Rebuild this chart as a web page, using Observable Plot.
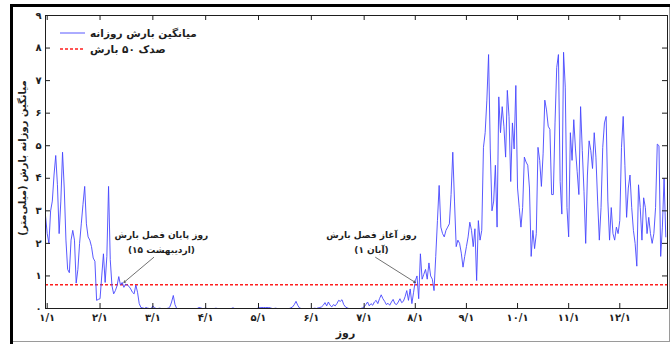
<!DOCTYPE html>
<html>
<head>
<meta charset="utf-8">
<script src="https://cdn.jsdelivr.net/npm/d3@7"></script>
<script src="https://cdn.jsdelivr.net/npm/@observablehq/plot@0.6"></script>
<style>
  html, body { margin: 0; padding: 0; background: #fff; }
  #fig { position: relative; width: 670px; height: 344px; overflow: hidden; background: #fff; }
  #fig > svg { position: absolute; left: 0; top: 0; }
  .edge { position: absolute; }
  #fig text { font-family: "DejaVu Sans", sans-serif; }
</style>
</head>
<body>
<div id="fig">
  <div class="edge" style="left:10px;top:4px;width:660px;height:3px;background:#000"></div>
  <div class="edge" style="left:10px;top:4px;width:3px;height:340px;background:#000"></div>
  <div class="edge" style="left:669px;top:7px;width:1px;height:334px;background:#9a9a9a"></div>
  <div class="edge" style="left:13px;top:341px;width:657px;height:1px;background:#9a9a9a"></div>
</div>
<script>
// Mean daily rainfall (mm), one value per day of the Persian calendar year, by month.
const farvardin = [2.85, 2.3, 2.0, 3.0, 3.3, 4.1, 4.7, 3.8, 2.3, 3.3, 4.8, 3.7, 2.1, 1.2, 1.1, 2.1, 2.4, 2.1, 0.78, 1.2, 2.0, 2.6, 3.2, 3.75, 2.6, 2.2, 2.1, 1.9, 1.55, 1.45, 0.25];
const ordibehesht = [0.28, 0.3, 1.0, 1.68, 0.8, 1.6, 3.75, 1.5, 0.7, 0.45, 0.55, 0.7, 0.98, 0.72, 0.8, 0.65, 0.75, 0.72, 0.68, 0.6, 0.5, 0.45, 0.72, 0.5, 0.15, 0.03, 0.02, 0.0, 0.03, 0.01, 0.0];
const khordad = [0.0, 0.08, 0.02, 0.0, 0.0, 0.01, 0.0, 0.0, 0.0, 0.0, 0.01, 0.05, 0.2, 0.4, 0.12, 0.0, 0.0, 0.0, 0.0, 0.0, 0.0, 0.0, 0.0, 0.0, 0.0, 0.0, 0.0, 0.0, 0.03, 0.02, 0.0];
const tir = [0.0, 0.01, 0.0, 0.0, 0.0, 0.0, 0.0, 0.01, 0.0, 0.0, 0.0, 0.0, 0.0, 0.0, 0.0, 0.0, 0.0, 0.02, 0.0, 0.0, 0.0, 0.0, 0.0, 0.0, 0.0, 0.0, 0.0, 0.0, 0.0, 0.0, 0.0];
const mordad = [0.0, 0.02, 0.03, 0.03, 0.03, 0.03, 0.03, 0.03, 0.02, 0.0, 0.0, 0.01, 0.0, 0.0, 0.0, 0.0, 0.0, 0.0, 0.0, 0.0, 0.02, 0.05, 0.12, 0.22, 0.1, 0.02, 0.0, 0.0, 0.0, 0.0, 0.0];
const shahrivar = [0.0, 0.0, 0.0, 0.01, 0.0, 0.02, 0.03, 0.05, 0.1, 0.18, 0.08, 0.2, 0.1, 0.05, 0.12, 0.08, 0.15, 0.25, 0.22, 0.27, 0.12, 0.05, 0.02, 0.0, 0.0, 0.0, 0.0, 0.0, 0.0, 0.0, 0.0];
const mehr = [0.02, 0.05, 0.12, 0.2, 0.08, 0.15, 0.1, 0.2, 0.25, 0.15, 0.3, 0.42, 0.3, 0.22, 0.12, 0.16, 0.1, 0.2, 0.28, 0.15, 0.12, 0.2, 0.3, 0.18, 0.22, 0.36, 0.55, 0.25, 0.6, 0.15];
const aban = [0.5, 0.85, 1.0, 0.3, 1.68, 0.9, 1.05, 1.2, 0.9, 1.4, 1.0, 0.9, 0.55, 1.6, 2.7, 3.78, 2.5, 2.3, 2.2, 2.4, 2.5, 2.6, 3.5, 4.8, 3.3, 1.9, 2.1, 2.0, 1.7, 1.27];
const azar = [1.6, 1.9, 2.2, 2.65, 2.4, 1.9, 2.45, 0.86, 2.7, 2.1, 2.4, 4.95, 5.4, 6.4, 7.8, 4.9, 3.0, 3.3, 4.4, 2.5, 6.5, 5.4, 6.2, 5.6, 4.65, 6.7, 5.9, 3.9, 5.7, 4.9];
const dey = [6.85, 3.7, 3.1, 2.5, 3.1, 4.65, 4.5, 4.4, 3.7, 1.6, 2.4, 1.84, 2.3, 4.95, 4.55, 3.75, 4.75, 6.4, 6.1, 5.6, 5.5, 3.5, 3.5, 5.7, 7.4, 7.8, 3.9, 2.9, 7.87, 6.8];
const bahman = [3.1, 2.2, 5.4, 4.55, 5.8, 4.9, 4.2, 3.5, 6.2, 4.85, 3.6, 2.0, 4.1, 5.15, 4.85, 4.3, 5.4, 4.65, 3.3, 2.1, 3.1, 4.95, 5.7, 5.9, 3.3, 2.1, 3.1, 2.3, 2.1, 2.5];
const esfand = [2.3, 2.7, 4.95, 5.9, 4.4, 2.8, 3.7, 4.1, 3.1, 2.4, 2.0, 1.3, 3.8, 3.1, 2.1, 3.4, 3.1, 2.3, 2.8, 2.3, 2.0, 2.3, 3.1, 5.05, 5.0, 1.6, 2.5, 4.0, 2.2];

// 50th percentile of daily rainfall (mm)
const median = 0.73;

// Axis ticks: first day of each month, and rainfall in mm
const monthStartDay = [1, 32, 63, 94, 125, 156, 187, 217, 247, 277, 307, 337];
const monthTickLabels = ["۱/۱", "۲/۱", "۳/۱", "۴/۱", "۵/۱", "۶/۱", "۷/۱", "۸/۱", "۹/۱", "۱۰/۱", "۱۱/۱", "۱۲/۱"];
const rainTicks = [0, 1, 2, 3, 4, 5, 6, 7, 8, 9];
const rainTickLabels = ["۰", "۱", "۲", "۳", "۴", "۵", "۶", "۷", "۸", "۹"];

// Season boundaries: 15 Ordibehesht (end of the rainy season) and 1 Aban (start)
const seasonDays = [31 + 15, 217];
const seasonTitles = ["روز پایان فصل بارش", "روز آغاز فصل بارش"];
const seasonDates = ["(۱۵ اردیبهشت)", "(۱ آبان)"];

// Where each callout's text sits and where its leader line starts (data units)
const calloutLayout = [
  {labelDay: 68, fromDay: 63.5},
  {labelDay: 191.3, fromDay: 193.7}
];
const calloutTitleY = 2.26, calloutDateY = 1.8, leaderFromY = 1.57, leaderToY = 0.8;

const rain = [farvardin, ordibehesht, khordad, tir, mordad, shahrivar, mehr, aban, azar, dey, bahman, esfand].flat();
const series = rain.map((v, i) => ({day: i, v}));

const callouts = seasonDays.map((day, i) => ({
  day,
  title: seasonTitles[i],
  date: seasonDates[i],
  ...calloutLayout[i]
}));

const monthLabelOf = new Map(monthStartDay.map((d, i) => [d, monthTickLabels[i]]));
const rainLabelOf = new Map(rainTicks.map((d, i) => [d, rainTickLabels[i]]));

const W = 670, H = 344, mL = 45, mR = 3, mT = 15, mB = 36;
const innerW = W - mL - mR, innerH = H - mT - mB;
const ink = "#1e1e1e";
const blue = "#4646ff", red = "#ff1e1e";

const chart = Plot.plot({
  width: W,
  height: H,
  marginLeft: mL,
  marginRight: mR,
  marginTop: mT,
  marginBottom: mB,
  style: {fontFamily: "DejaVu Sans, sans-serif", background: "transparent", color: ink},
  x: {domain: [0, 365]},
  y: {domain: [0, 9]},
  marks: [
    Plot.ruleY([median], {stroke: red, strokeWidth: 1.7, strokeDasharray: "3,2"}),
    Plot.line(series, {x: "day", y: "v", stroke: blue, strokeWidth: 0.9}),
    Plot.frame({stroke: ink, strokeWidth: 1}),
    // inward tick marks on all four sides
    Plot.tickY(rainTicks, {y: d => d, insetRight: innerW - 5, stroke: ink}),
    Plot.tickY(rainTicks, {y: d => d, insetLeft: innerW - 5, stroke: ink}),
    Plot.tickX(monthStartDay, {x: d => d, insetTop: innerH - 5, stroke: ink}),
    Plot.tickX(monthStartDay, {x: d => d, insetBottom: innerH - 5, stroke: ink}),
    Plot.axisX({ticks: monthStartDay, tickFormat: d => monthLabelOf.get(d), tickSize: 0, tickPadding: 5, label: null, fontSize: 10, fontWeight: "bold"}),
    Plot.axisY({ticks: rainTicks, tickFormat: d => rainLabelOf.get(d), tickSize: 0, tickPadding: 4, label: null, fontSize: 10, fontWeight: "bold"}),
    Plot.text(["میانگین روزانه بارش (میلی‌متر)"], {frameAnchor: "left", textAnchor: "middle", rotate: -90, dx: -23, dy: -4, fontSize: 10, fontWeight: "bold", fill: ink}),
    Plot.text(["روز"], {frameAnchor: "bottom", dy: 28, dx: -11, fontSize: 11, fontWeight: "bold", fill: ink}),
    Plot.arrow(callouts, {x1: "fromDay", y1: () => leaderFromY, x2: "day", y2: () => leaderToY, stroke: "#333", strokeWidth: 0.7, headLength: 4}),
    Plot.text(callouts, {x: "labelDay", y: () => calloutTitleY, text: "title", fontSize: 9, fontWeight: "bold", fill: ink}),
    Plot.text(callouts, {x: "labelDay", y: () => calloutDateY, text: "date", fontSize: 9, fontWeight: "bold", fill: ink})
  ]
});

document.getElementById("fig").prepend(chart);

// Legend in the upper-left corner of the plot area
const svg = d3.select(chart);
const legend = svg.append("g").attr("font-family", "DejaVu Sans, sans-serif").attr("font-size", 10.5).attr("font-weight", "bold");
const legendItems = [
  {label: "میانگین بارش روزانه", stroke: blue, dash: null, width: 0.9},
  {label: "صدک ۵۰ بارش", stroke: red, dash: "3,2", width: 1.7}
];
legendItems.forEach((item, i) => {
  const y = 33 + i * 16;
  legend.append("line").attr("x1", 60).attr("x2", 85).attr("y1", y).attr("y2", y)
    .attr("stroke", item.stroke).attr("stroke-width", item.width).attr("stroke-dasharray", item.dash);
  const t = legend.append("text").attr("x", 0).attr("y", y).attr("dy", "0.35em").attr("fill", ink).text(item.label);
  const box = t.node().getBBox();
  t.attr("x", 90 - box.x);
});
</script>
</body>
</html>
